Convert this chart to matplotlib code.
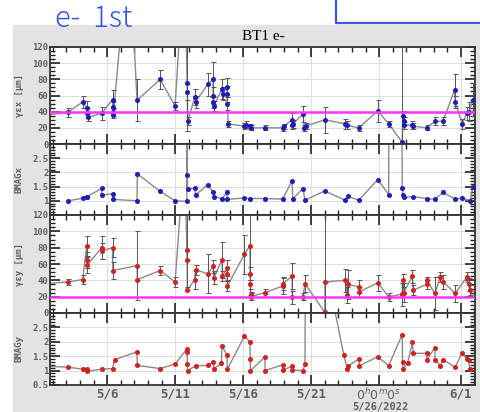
import matplotlib
matplotlib.use("Agg")
import matplotlib.pyplot as plt
from matplotlib.ticker import MultipleLocator, FixedLocator, NullFormatter
from matplotlib.patches import Rectangle
from matplotlib.lines import Line2D

# time axis: day of May 2022 (32 = 6/1)
tick_pos = [6, 11, 16, 21, 26, 32]
tick_lab = ["5/6", "5/11", "5/16", "5/21", "$0^h0^m0^s$", "6/1"]

# gamma*emittance x [um]
t_ex = [1.5, 3.1, 4.2, 4.5, 4.55, 4.6, 5.6, 6.4, 6.42, 6.44, 6.46, 7.6, 8.2, 9.9, 11.0, 11.7,
        11.88, 11.9, 11.92, 12.45, 12.5, 13.4, 13.78, 13.8, 13.82, 13.84, 14.45, 14.5, 14.8,
        14.82, 14.84, 14.9, 16.1, 16.2, 16.5, 16.55, 17.6, 18.9, 19.0, 19.6, 19.62, 19.65,
        20.4, 20.5, 20.6, 22.0, 23.5, 23.65, 24.5, 25.9, 26.7, 27.7, 27.75, 27.8, 27.85,
        28.45, 28.5, 29.5, 30.1, 30.7, 31.55, 31.6, 32.1, 32.45, 32.6, 32.9]
ex = [36, 39, 52, 45, 38, 33, 38, 55, 46, 40, 36, 250, 54, 80, 47, 240,
      76, 64, 28, 58, 52, 74, 80, 60, 52, 47, 68, 62, 70,
      62, 50, 25, 22, 24, 22, 20, 20, 20, 22, 30, 24, 25,
      37, 20, 22, 30, 25, 23, 20, 41, 25, 2, 35, 28, 23,
      24, 22, 20, 28, 28, 67, 52, 25, 38, 40, 55]
ex_err = [4, 5, 7, 8, 6, 5, 8, 12, 6, 5, 4, 0, 26, 12, 5, 0,
          60, 10, 5, 10, 8, 14, 22, 10, 8, 6, 12, 8, 12,
          10, 8, 4, 4, 4, 3, 3, 3, 4, 3, 8, 5, 5,
          10, 4, 4, 16, 6, 5, 4, 14, 4, 120, 6, 5, 4,
          5, 4, 3, 5, 5, 20, 8, 6, 8, 12, 20]

# BMAG x
t_bx = [3.1, 4.2, 4.5, 4.55, 5.6, 5.62, 6.4, 6.44, 8.2, 8.22, 9.9, 11.0, 11.86, 11.88, 11.9,
        11.92, 12.45, 12.5, 13.4, 13.8, 13.84, 14.45, 14.8, 14.84, 16.1, 16.5, 17.6, 18.9,
        19.6, 19.65, 20.4, 20.55, 22.0, 23.5, 23.7, 24.5, 25.9, 26.7, 26.75, 27.65, 27.7,
        27.75, 27.8, 28.5, 29.5, 30.1, 30.7, 31.6, 32.1, 32.7, 32.9]
bx = [1.0, 1.09, 1.12, 1.15, 1.44, 1.2, 1.25, 1.05, 1.0, 1.95, 1.33, 1.0, 0.98, 8, 1.9,
      1.4, 1.45, 1.2, 1.57, 1.3, 1.15, 1.08, 1.3, 1.05, 1.1, 1.08, 1.08, 1.06,
      1.7, 1.07, 1.43, 1.02, 1.35, 1.02, 1.16, 1.02, 1.75, 1.22, 8, 8, 1.45,
      1.2, 1.12, 1.15, 1.08, 1.05, 1.3, 1.05, 1.1, 1.0, 1.5]

# gamma*emittance y [um]
t_ey = [1.5, 3.1, 4.2, 4.5, 4.52, 4.55, 5.6, 5.62, 6.4, 6.42, 8.2, 8.22, 9.9, 11.0, 11.7,
        11.86, 11.88, 11.9, 12.45, 12.5, 13.4, 13.8, 13.84, 14.45, 14.48, 14.8, 14.82, 14.84,
        16.1, 16.5, 16.52, 16.54, 16.56, 16.58, 17.6, 18.9, 18.92, 19.6, 19.62, 20.4, 20.55,
        22.0, 22.02, 23.5, 23.65, 23.7, 24.5, 24.55, 25.9, 26.7, 27.7, 27.72, 27.8, 28.45,
        28.5, 29.5, 29.52, 30.1, 30.5, 30.7, 31.6, 32.45, 32.6, 32.65]
ey = [36, 38, 41, 82, 65, 59, 80, 76, 80, 52, 58, 41, 52, 38, 200,
      77, 65, 28, 41, 53, 48, 57, 43, 65, 45, 55, 48, 33,
      72, 82, 48, 35, 22, 20, 25, 33, 36, 45, 19, 20, 36,
      1, 38, 40, 22, 35, 32, 26, 37, 20, 23, 40, 25, 45,
      28, 35, 40, 24, 44, 38, 24, 44, 35, 28]
ey_err = [0, 4, 5, 12, 10, 10, 14, 10, 12, 10, 42, 0, 5, 6, 0,
          45, 0, 0, 12, 6, 24, 8, 8, 22, 6, 10, 8, 6,
          24, 60, 8, 6, 4, 4, 5, 10, 8, 16, 8, 4, 10,
          120, 0, 14, 10, 18, 8, 6, 10, 5, 14, 8, 12, 8,
          6, 6, 4, 20, 6, 8, 10, 6, 8, 6]

# BMAG y
t_by = [1.5, 3.1, 4.2, 4.5, 4.55, 5.6, 6.4, 6.55, 8.2, 8.22, 9.9, 11.0, 11.86, 11.88, 11.9,
        11.92, 12.5, 13.4, 13.8, 13.84, 14.4, 14.45, 14.8, 14.84, 16.1, 16.5, 16.52, 16.54,
        17.6, 17.62, 18.9, 18.92, 19.6, 19.62, 20.4, 20.55, 20.7, 22.0, 23.4, 23.65, 23.7,
        24.5, 24.55, 25.9, 26.7, 27.7, 27.72, 27.75, 28.1, 28.45, 28.5, 29.5, 29.52, 30.1,
        30.12, 30.5, 30.7, 31.6, 32.1, 32.45, 32.6, 32.65]
by = [1.15, 1.12, 1.05, 1.07, 0.98, 1.05, 1.07, 1.38, 1.65, 1.18, 1.07, 1.23, 1.75, 1.65, 1.22,
      1.0, 1.17, 1.18, 1.3, 1.07, 1.25, 1.85, 1.55, 1.05, 2.2, 2.0, 1.4, 1.0,
      1.47, 1.0, 1.2, 1.02, 1.15, 1.02, 1.0, 1.22, 20, 4.8, 1.55, 1.07, 1.15,
      1.4, 1.17, 1.48, 1.17, 2.25, 1.3, 1.05, 1.27, 1.98, 1.6, 1.6, 1.38, 1.8,
      1.38, 1.17, 1.38, 1.12, 1.62, 1.4, 1.38, 1.05]

W, H = 481, 412
fig = plt.figure(figsize=(W / 100, H / 100), dpi=100)
fig.patches.append(Rectangle((13 / W, 0), 1, 1 - 25 / H, transform=fig.transFigure,
                             color='#e3e3e3', zorder=-5))
fig.lines.append(Line2D([336 / W, 336 / W, 1], [1, 1 - 23 / H, 1 - 23 / H],
                        transform=fig.transFigure, color='#3a5ad8', lw=1.6))
fig.text(55 / W, 1 - 27 / H, "e-  1st", color='#2f55e6', fontsize=21, fontweight='light',
         family=['Noto Sans CJK JP', 'DejaVu Sans'], ha='left', va='baseline')
fig.text(263 / W, 1 - 37 / H, "BT1 e-", family='Liberation Serif', fontsize=11,
         ha='center', va='center')

left, width = 50 / W, 425 / W
rows = [(47, 144), (144, 215), (215, 313), (313, 385)]
axes = []
for top, bot in rows:
    ax = fig.add_axes([left, 1 - bot / H, width, (bot - top) / H])
    axes.append(ax)

mono = dict(family='DejaVu Sans Mono', fontweight='bold', color='#606060')


def style(ax, ylim, ymaj, ymin, ylabel, shown):
    ax.set_xlim(1.8, 33.05)
    ax.set_ylim(*ylim)
    ax.xaxis.set_major_locator(FixedLocator(tick_pos))
    ax.xaxis.set_minor_locator(MultipleLocator(1))
    ax.yaxis.set_major_locator(MultipleLocator(ymaj))
    ax.yaxis.set_minor_locator(MultipleLocator(ymin))
    ax.set_yticks(ax.get_yticks())
    ax.set_yticklabels([f"{v:g}" if v in shown else "" for v in ax.get_yticks()])
    ax.set_ylim(*ylim)
    ax.tick_params(which='both', direction='in', top=True, right=True, colors='#222')
    ax.tick_params(which='major', length=7, width=1.2)
    ax.tick_params(which='minor', length=3.5, width=1)
    ax.tick_params(axis='y', labelsize=6.5, pad=1)
    for lab in ax.get_yticklabels():
        lab.set(**mono)
    ax.grid(True, which='major', color='#dddddd', lw=0.7)
    ax.set_axisbelow(True)
    for s in ax.spines.values():
        s.set_color('#333')
        s.set_linewidth(1.3)
    ax.set_ylabel(ylabel, fontsize=6.5, **mono)
    ax.yaxis.set_label_coords(-0.062, 0.5)
    ax.xaxis.set_major_formatter(NullFormatter())


line_kw = dict(color='#8a8a8a', lw=1.0, zorder=2)
eb_kw = dict(fmt='none', ecolor='#555555', elinewidth=0.7, capsize=1.8, capthick=0.7, zorder=3)

ax = axes[0]
ax.plot(t_ex, ex, **line_kw)
ax.errorbar(t_ex, ex, yerr=ex_err, **eb_kw)
ax.plot(t_ex, ex, 'o', ms=2.6, color='#1f1fb8', zorder=4)
ax.axhline(40, color='#ff33ff', lw=1.8, zorder=5)
style(ax, (0, 120), 20, 5, "γεx [μm]", [0, 20, 40, 60, 80, 100, 120])

ax = axes[1]
ax.plot(t_bx, bx, **line_kw)
ax.plot(t_bx, bx, 'o', ms=2.6, color='#1f1fb8', zorder=4)
style(ax, (0.5, 3), 0.5, 0.1, "BMAGx", [1, 1.5, 2, 2.5])

ax = axes[2]
ax.plot(t_ey, ey, **line_kw)
ax.errorbar(t_ey, ey, yerr=ey_err, **eb_kw)
ax.plot(t_ey, ey, 'o', ms=2.6, color='#d42020', zorder=4)
ax.axhline(20, color='#ff33ff', lw=1.8, zorder=5)
style(ax, (0, 120), 20, 5, "γεy [μm]", [0, 20, 40, 60, 80, 100, 120])

ax = axes[3]
ax.plot(t_by, by, **line_kw)
ax.plot(t_by, by, 'o', ms=2.6, color='#d42020', zorder=4)
style(ax, (0.5, 3), 0.5, 0.1, "BMAGy", [0.5, 1, 1.5, 2, 2.5])
ax.set_xticks(tick_pos)
ax.set_xticklabels(tick_lab)
ax.tick_params(axis='x', labelsize=9, pad=1.5)
for lab in ax.get_xticklabels():
    lab.set(**mono)

fig.text(380 / W, 1 - 402 / H, "5/26/2022", ha='center', va='top', fontsize=7.5, **mono)

fig.savefig("out.png", dpi=100)
